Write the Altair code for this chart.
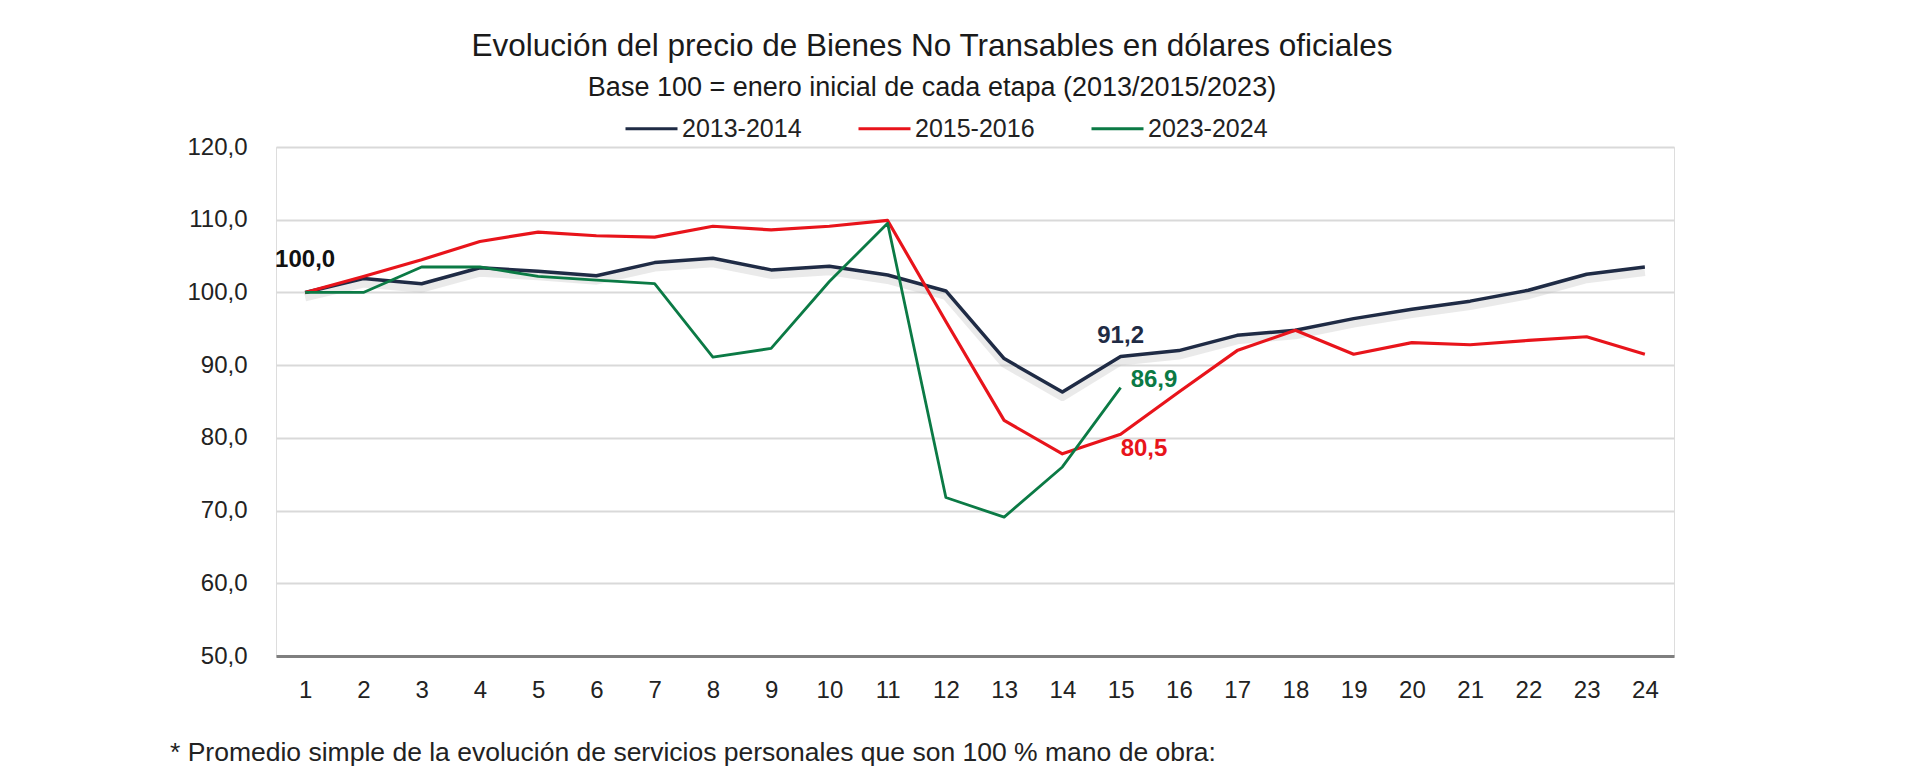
import altair as alt
import pandas as pd

months = list(range(1, 25))
serie_2013 = [100.0, 101.9, 101.2, 103.4, 102.9, 102.3, 104.1, 104.7, 103.1, 103.6, 102.4, 100.2,
              90.9, 86.3, 91.2, 92.0, 94.1, 94.8, 96.4, 97.7, 98.8, 100.3, 102.5, 103.5]
serie_2015 = [100.0, 102.2, 104.5, 107.0, 108.3, 107.8, 107.6, 109.1, 108.6, 109.1, 109.9, 96.0,
              82.4, 77.8, 80.5, 86.3, 92.0, 94.8, 91.5, 93.1, 92.8, 93.4, 93.9, 91.5]
serie_2023 = [100.0, 100.0, 103.5, 103.5, 102.2, 101.7, 101.2, 91.1, 92.3, 101.5, 109.5, 71.8,
              69.1, 76.0, 86.9]
series_names = ["2013-2014", "2015-2016", "2023-2024"]
series_colors = ["#1f2b45", "#e8141b", "#0b7a45"]

rows = []
for name, vals in zip(series_names, [serie_2013, serie_2015, serie_2023]):
    for m, v in zip(months, vals):
        rows.append({"mes": m, "valor": v, "serie": name})
df = pd.DataFrame(rows)

ann_mes = [1, 15, 15, 15]
ann_val = [100.0, 91.2, 86.9, 80.5]
ann_text = ["100,0", "91,2", "86,9", "80,5"]
ann_serie = ["base", "2013-2014", "2023-2024", "2015-2016"]
ann = pd.DataFrame({"mes": ann_mes, "valor": ann_val, "texto": ann_text, "serie": ann_serie})

FONT = "Liberation Sans"

x_enc = alt.X("mes:O", axis=alt.Axis(title=None, labelAngle=0, ticks=False, labelPadding=22,
                                     labelFontSize=24, labelColor="#222222", labelFont=FONT,
                                     domainColor="#7f7f7f", domainWidth=3, grid=False))
y_scale = alt.Scale(domain=[50, 120], nice=False, zero=False)
y_enc = alt.Y("valor:Q", scale=y_scale,
              axis=alt.Axis(title=None, values=[50, 60, 70, 80, 90, 100, 110, 120],
                            labelExpr="replace(format(datum.value, '.1f'), '.', ',')",
                            ticks=False, domain=False, labelPadding=29, labelFontSize=24,
                            labelColor="#222222", labelFont=FONT,
                            gridColor="#d9d9d9", gridWidth=2))

base = alt.Chart(df)

shadow = base.transform_filter(alt.datum.serie == "2013-2014").mark_line(
    yOffset=5, strokeWidth=8, color="#c4c4c4", opacity=0.35, strokeJoin="round"
).encode(x=x_enc, y=y_enc)

color_scale = alt.Scale(domain=series_names, range=series_colors)

lines = base.mark_line(strokeJoin="round").encode(
    x=x_enc,
    y=y_enc,
    color=alt.Color("serie:N", scale=color_scale,
                    legend=alt.Legend(title=None, orient="none", direction="horizontal",
                                      legendX=348, legendY=-46, symbolType="stroke",
                                      symbolSize=2704, symbolStrokeWidth=3,
                                      labelFontSize=25, labelFont=FONT, labelColor="#222222",
                                      labelOffset=3, columnPadding=50)),
    strokeWidth=alt.StrokeWidth("serie:N", scale=alt.Scale(domain=series_names, range=[3.5, 2.8, 2.8]),
                                legend=None),
)

ann_colors = alt.Scale(domain=["base"] + series_names, range=["#111111"] + series_colors)

def ann_layer(idx, align, dx, dy):
    sub = ann.iloc[[idx]]
    return alt.Chart(sub).mark_text(fontSize=24, fontWeight="bold", font=FONT, align=align,
                                    baseline="middle", dx=dx, dy=dy).encode(
        x="mes:O", y=alt.Y("valor:Q", scale=y_scale),
        text="texto:N",
        color=alt.Color("serie:N", scale=ann_colors, legend=None))

a0 = ann_layer(0, "center", 0, -32)
a1 = ann_layer(1, "center", 0, -20)
a2 = ann_layer(2, "left", 10, -8)
a3 = ann_layer(3, "left", 0, 15)

foot = pd.DataFrame({"t": ["* Promedio simple de la evolución de servicios personales que son 100 % mano de obra:"]})
footnote = alt.Chart(foot).mark_text(align="left", baseline="middle", fontSize=26.5, font=FONT,
                                     color="#222222").encode(
    x=alt.value(-106), y=alt.value(606), text="t:N")

chart = alt.layer(shadow, lines, a0, a1, a2, a3, footnote).resolve_scale(
    color="independent"
).properties(
    width=1398, height=509,
    autosize=alt.AutoSizeParams(type="none"),
    padding={"left": 268, "top": 139, "right": 200, "bottom": 119},
    title=alt.TitleParams(
        text="Evolución del precio de Bienes No Transables en dólares oficiales",
        subtitle="Base 100 = enero inicial de cada etapa (2013/2015/2023)",
        anchor="middle", dx=-43, fontSize=31.5, font=FONT, fontWeight="normal", color="#1a1a1a",
        subtitleFontSize=27, subtitleFont=FONT, subtitleColor="#1a1a1a", subtitlePadding=13,
        offset=0),
).configure_view(stroke=None).configure(background="white")

chart.save("out.html", embed_options={"renderer": "svg", "actions": False})
